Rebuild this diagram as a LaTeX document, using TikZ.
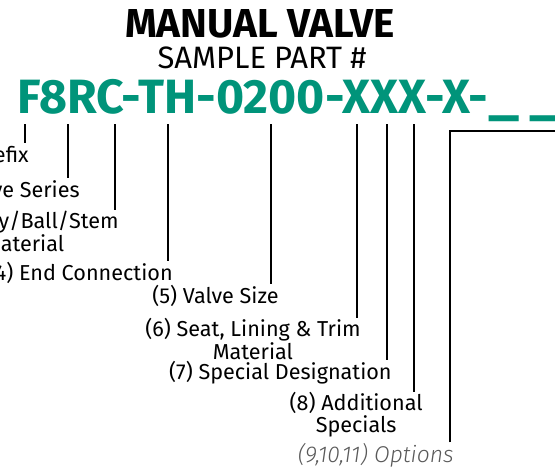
\documentclass[tikz,border=0pt]{standalone}
\usepackage{fontspec}
\setmainfont{Fira Sans}
\newfontfamily\optfont{Fira Sans Light}
\definecolor{valveteal}{RGB}{0,148,122}
\begin{document}
\begin{tikzpicture}[
	x=0.02cm, y=-0.02cm,
	title/.style={font=\bfseries\fontsize{23}{23}\selectfont, anchor=base},
	subtitle/.style={font=\fontsize{17.6}{17.6}\selectfont, anchor=base},
	partno/.style={font=\bfseries\fontsize{27.4}{27.4}\selectfont, text=valveteal,
		anchor=base west, inner sep=0pt},
	field/.style={font=\fontsize{12.3}{11.3}\selectfont, inner sep=0pt, align=center},
	opt/.style={field, font=\optfont\itshape\fontsize{13}{11.3}\selectfont, text=black!65},
	tick/.style={draw=black, line width=0.7pt},
]
\useasboundingbox (0,0) rectangle (555,468);
\node[title] (head) at (260,37) {MANUAL VALVE};
\node[subtitle] (sub) at (262,68) {SAMPLE PART \#};
\node[partno] (pn) at (17,113)
	{F8RC-TH-0200-XXX-X-\scalebox{1.25}[1]{\_}\hspace{5.5pt}\scalebox{1.25}[1]{\_}};
% top ends of the ticks
\coordinate (t1) at (25,124);
\coordinate (t2) at (68,124);
\coordinate (t3) at (115,124);
\coordinate (t4) at (168,124);
\coordinate (t5) at (271,124);
\coordinate (t6) at (357,124);
\coordinate (t7) at (387,124);
\coordinate (t8) at (414,124);
\coordinate (t9) at (450,131);
\coordinate (c9) at (560,131);
% field labels
\node[field, anchor=base east] (l1) at (29,162) {(1) Prefix};
\node[field, anchor=base east] (l2) at (80,197) {(2) Valve Series};
\node[field, anchor=north east] (l3) at (119,210) {(3) Body/Ball/Stem\\Material};
\node[field, anchor=base east] (l4) at (173,280) {(4) End Connection};
\node[field, anchor=base east] (l5) at (279,303) {(5) Valve Size};
\node[field, anchor=north east] (l6) at (361,318) {(6) Seat, Lining \& Trim\\Material};
\node[field, anchor=base east] (l7) at (392,379) {(7) Special Designation};
\node[field, anchor=north east] (l8) at (423,392) {(8) Additional\\Specials};
\node[opt, anchor=base east] (l9) at (454,462) {(9,10,11) Options};
\foreach \i in {1,...,8}
	\draw[tick] (t\i) -- (t\i |- l\i.north);
\draw[tick] (l9.north -| t9) |- (c9);
\end{tikzpicture}
\end{document}
